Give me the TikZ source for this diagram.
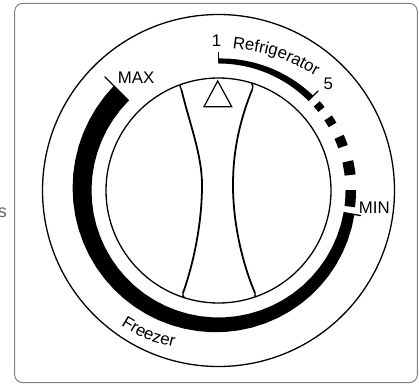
\documentclass[tikz,border=0pt]{standalone}
\usepackage{fontspec}
\setmainfont{Liberation Sans}
\usetikzlibrary{decorations.text}
\tikzset{
  ringline/.style={draw=black,line width=1.3pt},
  knobline/.style={draw=black,line width=1.8pt},
  knobcorner/.style={draw=black,line width=1.3pt},
  tickline/.style={draw=black,line width=1.3pt},
  dial/.style={font=\fontsize{16.8}{19}\selectfont,inner sep=0pt,text=black}
}
\def\cx{218.5}
\def\cy{190.5}
% annular sector: start, end, inner r, outer r at start, outer r at end
\newcommand{\sector}[5]{%
  \fill[black] plot[domain=#1:#2,samples=40] ({\cx+(#4+(\x-(#1))*((#5)-(#4))/((#2)-(#1)))*cos(\x)},{\cy-(#4+(\x-(#1))*((#5)-(#4))/((#2)-(#1)))*sin(\x)})
   -- plot[domain=#2:#1,samples=40] ({\cx+#3*cos(\x)},{\cy-#3*sin(\x)}) -- cycle;}
\newcommand{\radial}[3]{%
  \draw[tickline] ({\cx+#2*cos(#1)},{\cy-#2*sin(#1)}) -- ({\cx+#3*cos(#1)},{\cy-#3*sin(#1)});}
\begin{document}
\begin{tikzpicture}[x=1pt,y=-1pt]
\useasboundingbox (0,0) rectangle (419,385);
\clip (0,0) rectangle (419,385);
\draw[draw=black!50,line width=1pt,rounded corners=8pt] (14.7,3.3) rectangle (417.3,382.7);
\node[inner sep=0pt,text=black!60,font=\fontsize{18}{20}\selectfont,anchor=base] (cut) at (2.5,217) {s};
% rings
\draw[ringline] (\cx,\cy) circle[radius=176];
\draw[ringline] (\cx,\cy) circle[radius=112.5];
% freezer band
\sector{135}{350}{127}{148}{138}
\radial{135}{127}{161}
\radial{-10}{127}{144.5}
% refrigerator band
\sector{45}{90}{127}{134}{132}
\radial{90}{127}{138}
\radial{45}{127}{141}
% dashes
\sector{38.2}{41.4}{127}{135}{135}
\sector{29.9}{33.5}{127}{136}{136}
\sector{19.4}{24}{127}{137}{137}
\sector{6.7}{12.7}{127}{138}{138}
\sector{-7}{0.2}{127}{137.5}{137.5}
% knob
\draw[knobline] (252,90) .. controls (238,125) and (233,155) .. (233,185) .. controls (233,225) and (243,265) .. (255,293);
\draw[knobline] (181.5,90) .. controls (190,125) and (202,155) .. (202,185) .. controls (202,225) and (193,265) .. (183,293);
\draw[knobcorner] (252,90) .. controls (253.5,87) and (253,85) .. (251.5,83);
\draw[knobcorner] (181.5,90) .. controls (180,87.5) and (179.5,85.5) .. (181,84);
\draw[knobcorner] (255,293) .. controls (255.5,295) and (255,296) .. (254.5,297);
\draw[knobcorner] (183,293) .. controls (182.5,295) and (183,296) .. (184,297);
\draw[draw=black,line width=1.2pt,line join=miter] (217.7,81) -- (231.7,106.7) -- (204,106.7) -- cycle;
% labels
\node[dial] (one) at (216.5,41) {1};
\node[dial] (five) at (328.3,83.5) {5};
\node[dial] (max) at (136,77.7) {MAX};
\node[dial] (min) at (374.3,207.7) {MIN};
\path[decorate,decoration={text along path,text align=center,text={|\fontsize{16.8}{19}\selectfont|Refrigerator}}]
  (230,48) .. controls (275,54) .. (318,77);
\path[decorate,decoration={text along path,text align=center,text={|\fontsize{16.8}{19}\selectfont|Freezer}}]
  (120,324.5) .. controls (145.6,340.3) .. (175,347.5);
\end{tikzpicture}
\end{document}
